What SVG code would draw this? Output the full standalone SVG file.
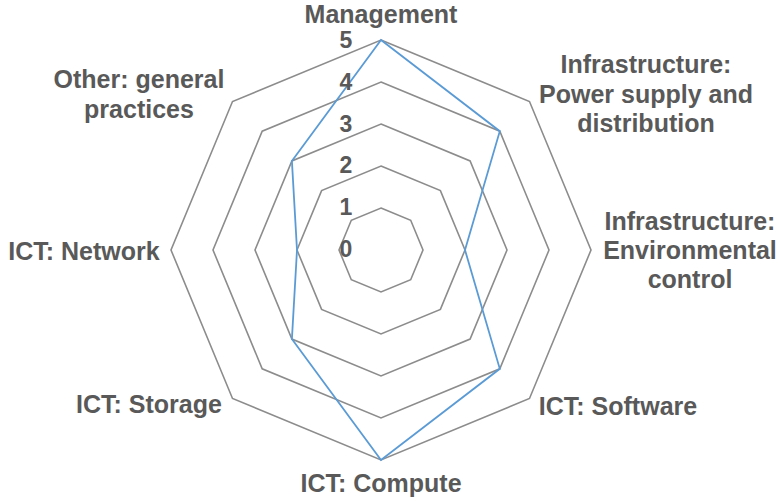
<svg xmlns="http://www.w3.org/2000/svg" width="780" height="501" viewBox="0 0 780 501">
<style>
.grid{fill:none;stroke:#8c8c8c;stroke-width:1.6;stroke-linejoin:miter}
.series{fill:none;stroke:#5b9bd5;stroke-width:1.8;stroke-linejoin:miter}
.lab{font-family:"Liberation Sans",Arial,sans-serif;font-weight:bold;font-size:25px;fill:#595959;text-anchor:middle}
.tick{font-family:"Liberation Sans",Arial,sans-serif;font-weight:bold;font-size:23px;fill:#595959;text-anchor:middle}
</style>
<rect width="780" height="501" fill="#ffffff"/>
<g id="grid">
<polygon class="grid" points="381,208 410.7,220.3 423,250 410.7,279.7 381,292 351.3,279.7 339,250 351.3,220.3"/>
<polygon class="grid" points="381,166 440.4,190.6 465,250 440.4,309.4 381,334 321.6,309.4 297,250 321.6,190.6"/>
<polygon class="grid" points="381,124 470.1,160.9 507,250 470.1,339.1 381,376 291.9,339.1 255,250 291.9,160.9"/>
<polygon class="grid" points="381,82 499.8,131.2 549,250 499.8,368.8 381,418 262.2,368.8 213,250 262.2,131.2"/>
<polygon class="grid" points="381,40 529.5,101.5 591,250 529.5,398.5 381,460 232.5,398.5 171,250 232.5,101.5"/>
</g>
<g id="series">
<polygon class="series" points="381,40 499.8,131.2 465,250 499.8,368.8 381,460 291.9,339.1 297,250 291.9,160.9"/>
</g>
<g id="ticks">
<text class="tick" x="346" y="257">0</text>
<text class="tick" x="346" y="215">1</text>
<text class="tick" x="346" y="173">2</text>
<text class="tick" x="346" y="132">3</text>
<text class="tick" x="346" y="90">4</text>
<text class="tick" x="346" y="48">5</text>
</g>
<g id="axis-management"><text class="lab" x="381" y="23">Management</text></g>
<g id="axis-power"><text class="lab" x="646" y="73">Infrastructure:</text><text class="lab" x="646" y="103">Power supply and</text><text class="lab" x="646" y="132">distribution</text></g>
<g id="axis-environmental"><text class="lab" x="690" y="230">Infrastructure:</text><text class="lab" x="690" y="259">Environmental</text><text class="lab" x="690" y="288">control</text></g>
<g id="axis-software"><text class="lab" x="618" y="415">ICT: Software</text></g>
<g id="axis-compute"><text class="lab" x="381" y="492">ICT: Compute</text></g>
<g id="axis-storage"><text class="lab" x="149" y="413">ICT: Storage</text></g>
<g id="axis-network"><text class="lab" x="84" y="260">ICT: Network</text></g>
<g id="axis-other"><text class="lab" x="139" y="88">Other: general</text><text class="lab" x="139" y="118">practices</text></g>
</svg>
